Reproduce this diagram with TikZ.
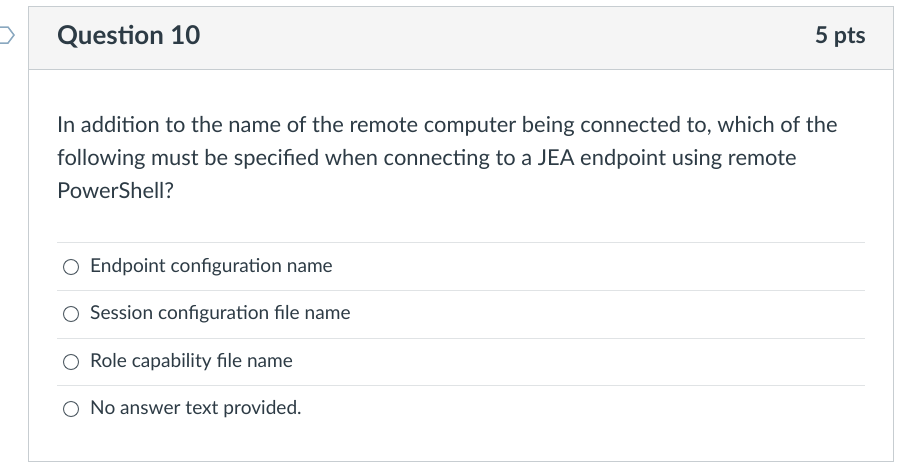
\documentclass[tikz,border=0pt]{standalone}
\usepackage{fontspec}
\setmainfont{Lato}
\definecolor{hdr}{HTML}{F5F5F5}
\definecolor{brd}{HTML}{C7CDD1}
\definecolor{txt}{HTML}{2D3B45}
\definecolor{sep}{HTML}{E0E3E5}
\definecolor{arr}{HTML}{8AA8C0}
\begin{document}
\begin{tikzpicture}[x=1pt,y=-1pt,
  qtext/.style={anchor=west,inner sep=0pt,text=txt,font=\fontsize{21.9}{21.9}\selectfont},
  opt/.style={anchor=west,inner sep=0pt,text=txt,font=\fontsize{19.1}{19.1}\selectfont},
  radio/.style={circle,draw=txt!80,line width=1pt,minimum size=15pt,inner sep=0pt}]
\useasboundingbox (0,0) rectangle (907,471);
\fill[white] (0,0) rectangle (907,471);
\fill[hdr] (28,6) rectangle (893,69);
\draw[brd,line width=1pt] (28,6) rectangle (893,461);
\draw[brd,line width=1pt] (28,69) -- (893,69);
\draw[arr,line width=1.5pt] (-2,27) -- (8,27) -- (14,35) -- (8,43) -- (-2,43);
\node[anchor=west,inner sep=0pt,text=txt,font=\fontsize{25.9}{25.9}\selectfont\bfseries] (title) at (57,37) {Question 10};
\node[anchor=east,inner sep=0pt,text=txt,font=\fontsize{23.2}{23.2}\selectfont\bfseries] (pts) at (866,37) {5 pts};
\node[qtext] (q1) at (57,126) {In addition to the name of the remote computer being connected to, which of the};
\node[qtext] (q2) at (57,159) {following must be specified when connecting to a JEA endpoint using remote};
\node[qtext] (q3) at (57,191) {PowerShell?};
\foreach \y in {242,290,338,385} \draw[sep,line width=1pt] (57,\y) -- (865,\y);
\foreach \y/\t/\n in {267/Endpoint configuration name/a,314/Session configuration file name/b,362/Role capability file name/c,409/No answer text provided./d}{
  \node[radio] (r\n) at (71,\y) {};
  \node[opt] (o\n) at (90,\y) {\t};
}
\end{tikzpicture}
\end{document}
